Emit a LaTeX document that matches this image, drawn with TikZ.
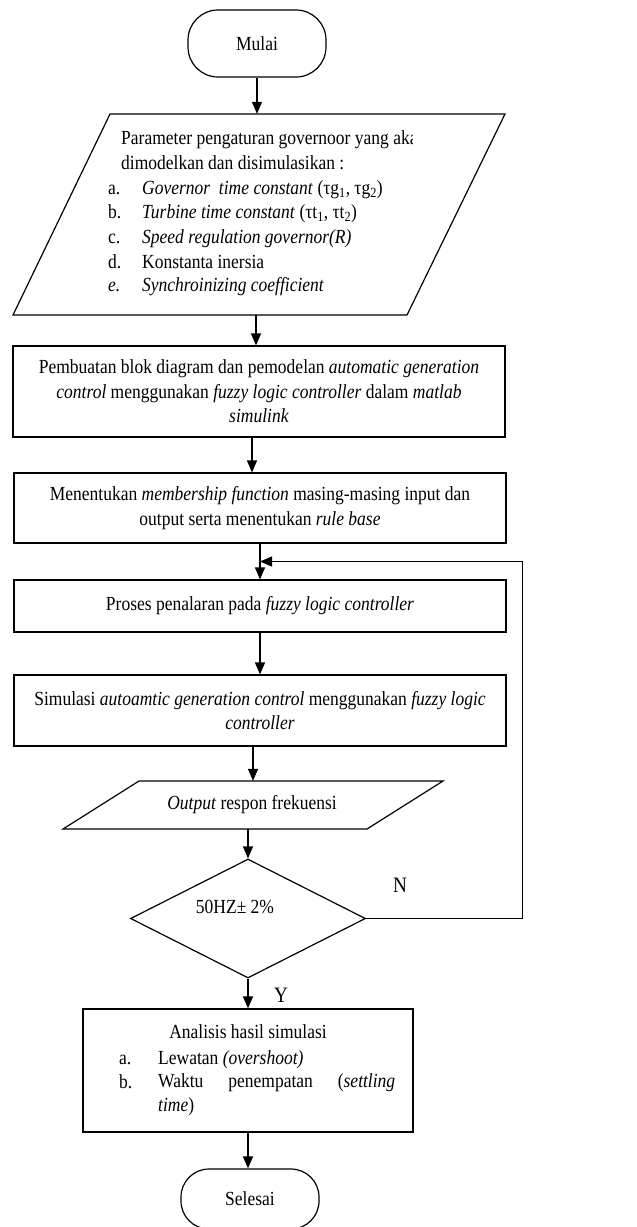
\documentclass[tikz,border=0pt]{standalone}
\usepackage{fontspec}
\setmainfont{Liberation Serif}[FakeStretch=0.875]
\usetikzlibrary{arrows.meta,shapes.geometric,calc}
\tikzset{
  ln/.style={line width=1.2pt},
  box/.style={draw, ln, inner sep=0pt, align=center, minimum width=492pt},
  ghost/.style={inner sep=0pt},
  term/.style={draw, ln, inner sep=0pt, rounded corners=30pt, minimum width=138pt},
  arr/.style={ln, -{Triangle[length=12pt,width=10pt]}},
  txt/.style={inner sep=0pt, anchor=base west},
  lbl/.style={inner sep=0pt, font=\fontsize{22}{26}\selectfont}
}
\begin{document}
\begin{tikzpicture}[x=1pt,y=-1pt,font=\fontsize{20}{24.5}\selectfont]
\useasboundingbox (0,0) rectangle (637,1227);

% start
\node[term, minimum height=67pt] (mulai) at (257,43.5) {Mulai};

% parallelogram 1
\node[ghost, minimum width=300pt, minimum height=201pt] (p1) at (256,214.5) {};
\draw[ln] (110,114) -- (505,114) -- (407,315) -- (13,315) -- cycle;
\begin{scope}
  \clip (0,100) rectangle (412,320);
  \node[txt] (p1l1) at (121,144) {Parameter pengaturan governoor yang aka};
\end{scope}
\node[txt] (p1l2) at (121,169) {dimodelkan dan disimulasikan :};
\node[txt] (la) at (108,194) {a.};
\node[txt] (ia) at (142,194) {\textit{Governor\ \ time constant} ({\char"03C4}g\textsubscript{1}, {\char"03C4}g\textsubscript{2})};
\node[txt] (lb) at (108,218) {b.};
\node[txt] (ib) at (142,218) {\textit{Turbine time constant} ({\char"03C4}t\textsubscript{1}, {\char"03C4}t\textsubscript{2})};
\node[txt] (lc) at (108,243) {c.};
\node[txt] (ic) at (142,243) {\textit{Speed regulation governor(R)}};
\node[txt] (ld) at (108,268) {d.};
\node[txt] (id) at (142,268) {Konstanta inersia};
\node[txt] (le) at (108,291) {\textit{e.}};
\node[txt] (ie) at (142,291) {\textit{Synchroinizing coefficient}};

% boxes
\node[box, minimum height=91pt] (b2) at (259,391.5)
  {Pembuatan blok diagram dan pemodelan \textit{automatic generation}\\
   \textit{control} menggunakan \textit{fuzzy logic controller} dalam \textit{matlab}\\
   \textit{simulink}};
\node[box, minimum height=70pt] (b3) at (260,508)
  {Menentukan \textit{membership function} masing-masing input dan\\
   output serta menentukan \textit{rule base}};
\node[box, minimum height=52pt] (b4) at (260,606)
  {Proses penalaran pada \textit{fuzzy logic controller}};
\node[box, minimum height=71pt] (b5) at (260,710.5)
  {Simulasi \textit{autoamtic generation control} menggunakan \textit{fuzzy logic}\\
   \textit{controller}};

% parallelogram 2
\node[ghost, minimum width=380pt, minimum height=48pt] (p2) at (253,805) {};
\draw[ln] (139,781) -- (443,781) -- (367,829) -- (63,829) -- cycle;
\node[ghost] (p2t) at (252,805) {\textit{Output} respon frekuensi};

% decision
\node[diamond, draw, ln, inner sep=0pt, minimum width=235pt, minimum height=119pt] (d) at (248,918.5) {};
\node[ghost] (dt) at (235,907) {50HZ{\char"00B1} 2\%};
\node[lbl] (nlab) at (400,885) {N};
\node[lbl] (ylab) at (281,995) {Y};

% analysis box
\node[draw, ln, inner sep=0pt, minimum width=330pt, minimum height=123pt] (b6) at (248,1070.5) {};
\node[ghost] (b6t) at (248,1032) {Analisis hasil simulasi};
\node[txt] (l6a) at (119,1064) {a.};
\node[txt] (i6a) at (158,1064) {Lewatan \textit{(overshoot)}};
\node[txt] (l6b) at (119,1088) {b.};
\node[txt, anchor=north west, text width=237pt, align=justify] (i6b) at (158,1073)
  {\baselineskip=24.5pt Waktu penempatan (\textit{settling}\linebreak\textit{time})};

% end
\node[term, minimum height=60pt, rounded corners=28pt] (selesai) at (250,1199) {Selesai};

% connectors
\coordinate (m) at ($(b3.south)!0.5!(b4.north)$);
\draw[arr] (mulai.south) -- (mulai.south |- p1.north);
\draw[arr] (p1.south) -- (p1.south |- b2.north);
\draw[arr] ([xshift=-7pt]b2.south) -- ([xshift=-7pt]b2.south |- b3.north);
\draw[arr] (b3.south) -- (b3.south |- b4.north);
\draw[arr] (b4.south) -- (b4.south |- b5.north);
\draw[arr] (b5.south -| p2.north) -- (p2.north);
\draw[arr] (p2.south -| d.north) -- (d.north);
\draw[arr] (d.south) -- (d.south |- b6.north);
\draw[arr] (b6.south) -- (b6.south |- selesai.north);
\draw[arr] (d.east) -- ++(156,0) |- (m);
\end{tikzpicture}
\end{document}
